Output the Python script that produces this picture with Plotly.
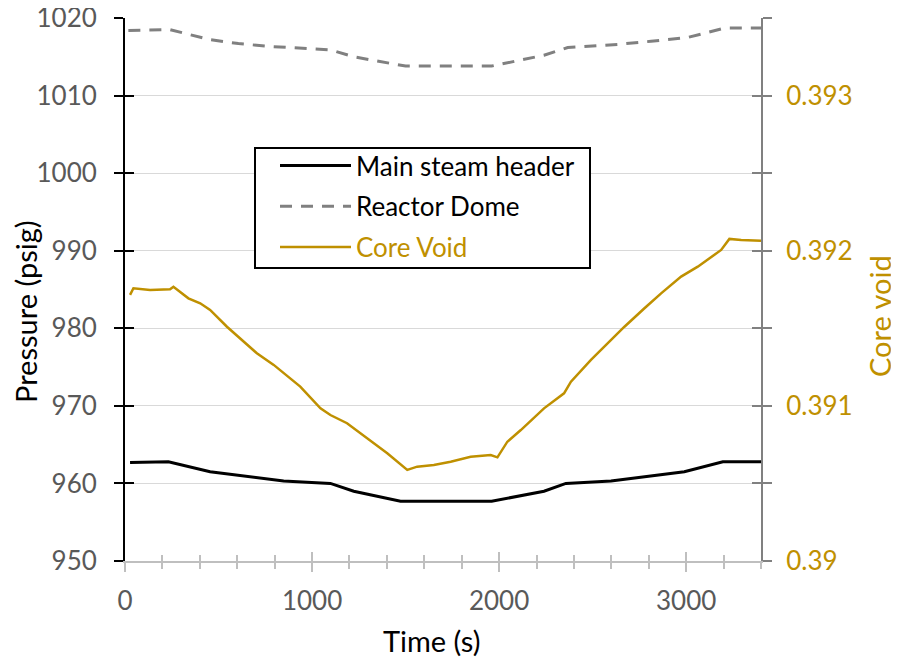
import plotly.graph_objects as go

# ---- data ----
time_msh = [27, 232, 455, 848, 1098, 1223, 1473, 1960, 2240, 2357, 2598, 2812, 2990, 3196, 3400]
msh = [962.7, 962.8, 961.5, 960.3, 960.0, 959.0, 957.7, 957.7, 959.0, 960.0, 960.3, 961.0, 961.5, 962.8, 962.8]

time_dome = [18, 241, 455, 606, 793, 1098, 1223, 1500, 1960, 2240, 2367, 2633, 2812, 3010, 3204, 3400]
dome = [1018.4, 1018.5, 1017.2, 1016.7, 1016.3, 1015.9, 1015.0, 1013.8, 1013.8, 1015.2, 1016.2, 1016.6, 1017.0, 1017.5, 1018.7, 1018.7]

time_void = [27, 45, 134, 241, 259, 339, 402, 455, 545, 705, 795, 937, 1045, 1098, 1187, 1294, 1402,
             1509, 1562, 1651, 1741, 1848, 1955, 1991, 2044, 2116, 2240, 2347, 2384, 2491, 2580, 2670,
             2777, 2866, 2973, 3062, 3187, 3231, 3294, 3400]
void = [0.391715, 0.391758, 0.391747, 0.391751, 0.391768, 0.391693, 0.391661, 0.391618, 0.391510,
        0.391339, 0.391264, 0.391124, 0.390984, 0.390941, 0.390888, 0.390791, 0.390694, 0.390587,
        0.390608, 0.390619, 0.390640, 0.390672, 0.390683, 0.390668, 0.390769, 0.390844, 0.390984,
        0.391081, 0.391156, 0.391296, 0.391403, 0.391510, 0.391629, 0.391725, 0.391833, 0.391897,
        0.392005, 0.392076, 0.392069, 0.392065]

left_ticks = [950, 960, 970, 980, 990, 1000, 1010, 1020]
right_ticks = [0.39, 0.3905, 0.391, 0.3915, 0.392, 0.3925, 0.393, 0.3935]
right_labels = ["0.39", "", "0.391", "", "0.392", "", "0.393", ""]
x_ticks = [0, 1000, 2000, 3000]

GOLD = "#bf9000"
FONT = "Lato"

# plot area in screen pixels (page has an 8px body margin)
PL, PR, PT, PB = 125, 761, 18, 561
OFF = 8
PW, PH = PR - PL, PB - PT


def px(x):
    return (x - PL) / PW


def py(y):
    return (PB - y) / PH


fig = go.Figure()
fig.add_trace(go.Scatter(x=time_msh, y=msh, mode="lines", name="Main steam header",
                         line=dict(color="black", width=3), legendgroup="a"))
fig.add_trace(go.Scatter(x=time_dome, y=dome, mode="lines", name="Reactor Dome",
                         line=dict(color="#808080", width=3, dash="12px,9px"), legendgroup="b"))
fig.add_trace(go.Scatter(x=time_void, y=void, mode="lines", yaxis="y2",
                         name=f"<span style='color:{GOLD}'>Core Void</span>",
                         line=dict(color=GOLD, width=2.5), legendgroup="c"))
# dummy traces so the overlay tick axes (crossing ticks) get drawn
fig.add_trace(go.Scatter(x=[None], y=[None], xaxis="x2", yaxis="y", showlegend=False, hoverinfo="skip"))
fig.add_trace(go.Scatter(x=[None], y=[None], xaxis="x", yaxis="y3", showlegend=False, hoverinfo="skip"))
fig.add_trace(go.Scatter(x=[None], y=[None], xaxis="x", yaxis="y4", showlegend=False, hoverinfo="skip"))

tickfont = dict(family=FONT, size=26, color="#595959")

fig.update_layout(
    width=899, height=660,
    margin=dict(l=PL - OFF, r=899 - (PR - OFF), t=PT - OFF, b=660 - (PB - OFF), autoexpand=False),
    paper_bgcolor="white", plot_bgcolor="white",
    font=dict(family=FONT, size=26, color="black"),
    showlegend=True,
    legend=dict(x=px(275), y=py(142), xanchor="left", yanchor="top",
                borderwidth=0, bgcolor="rgba(0,0,0,0)",
                font=dict(family=FONT, size=26, color="black"),
                itemwidth=71, tracegroupgap=4, traceorder="grouped"),
    xaxis=dict(range=[0, 3400], tickvals=x_ticks, ticks="outside", ticklen=9, tickwidth=2,
               tickcolor="#bfbfbf", showline=True, linecolor="#bfbfbf", linewidth=2,
               showgrid=False, zeroline=False, tickfont=tickfont, ticklabelstandoff=7,
               minor=dict(dtick=200, ticks="outside", ticklen=6, tickwidth=2, tickcolor="#bfbfbf"),
               anchor="y", automargin=False, ticklabeloverflow="allow"),
    xaxis2=dict(range=[0, 3400], overlaying="x", anchor="y", side="bottom",
                tickvals=x_ticks, ticks="inside", ticklen=9, tickwidth=2, tickcolor="#bfbfbf",
                showticklabels=False, showgrid=False, zeroline=False, showline=False, automargin=False,
                minor=dict(dtick=200, ticks="inside", ticklen=6, tickwidth=2, tickcolor="#bfbfbf")),
    yaxis=dict(range=[950, 1020], tickvals=left_ticks, ticks="outside", ticklen=9, tickwidth=2,
               tickcolor="black", showline=True, linecolor="black", linewidth=2,
               showgrid=True, gridcolor="#d9d9d9", gridwidth=1, zeroline=False,
               tickfont=tickfont, ticklabelstandoff=12, anchor="x", automargin=False,
               ticklabeloverflow="allow"),
    yaxis2=dict(range=[0.39, 0.3935], overlaying="y", side="right", anchor="x",
                tickvals=right_ticks, ticktext=right_labels, ticks="outside", ticklen=9, tickwidth=2,
                tickcolor="#808080", showline=True, linecolor="#808080", linewidth=2,
                showgrid=False, zeroline=False, tickfont=dict(family=FONT, size=26, color=GOLD),
                ticklabelstandoff=9, automargin=False, ticklabeloverflow="allow"),
    yaxis3=dict(range=[950, 1020], overlaying="y", side="left", anchor="x",
                tickvals=left_ticks, ticks="inside", ticklen=9, tickwidth=2, tickcolor="black",
                showticklabels=False, showgrid=False, zeroline=False, showline=False, automargin=False),
    yaxis4=dict(range=[0.39, 0.3935], overlaying="y", side="right", anchor="x",
                tickvals=right_ticks, ticks="inside", ticklen=9, tickwidth=2, tickcolor="#808080",
                showticklabels=False, showgrid=False, zeroline=False, showline=False, automargin=False),
)

# legend frame
fig.add_shape(type="rect", xref="paper", yref="paper",
              x0=px(255), x1=px(590), y0=py(268), y1=py(148),
              line=dict(color="black", width=2), fillcolor="white", layer="above")

fig.add_annotation(text="Pressure (psig)", xref="paper", yref="paper",
                   x=px(25), y=py(312), textangle=-90, showarrow=False,
                   font=dict(family=FONT, size=29, color="black"), xanchor="center", yanchor="middle")
fig.add_annotation(text="Core void", xref="paper", yref="paper",
                   x=px(880), y=py(316), textangle=-90, showarrow=False,
                   font=dict(family=FONT, size=29, color=GOLD), xanchor="center", yanchor="middle")
fig.add_annotation(text="Time (s)", xref="paper", yref="paper",
                   x=px(431), y=py(640), showarrow=False,
                   font=dict(family=FONT, size=29, color="black"), xanchor="center", yanchor="middle")

fig.write_html("out.html")
